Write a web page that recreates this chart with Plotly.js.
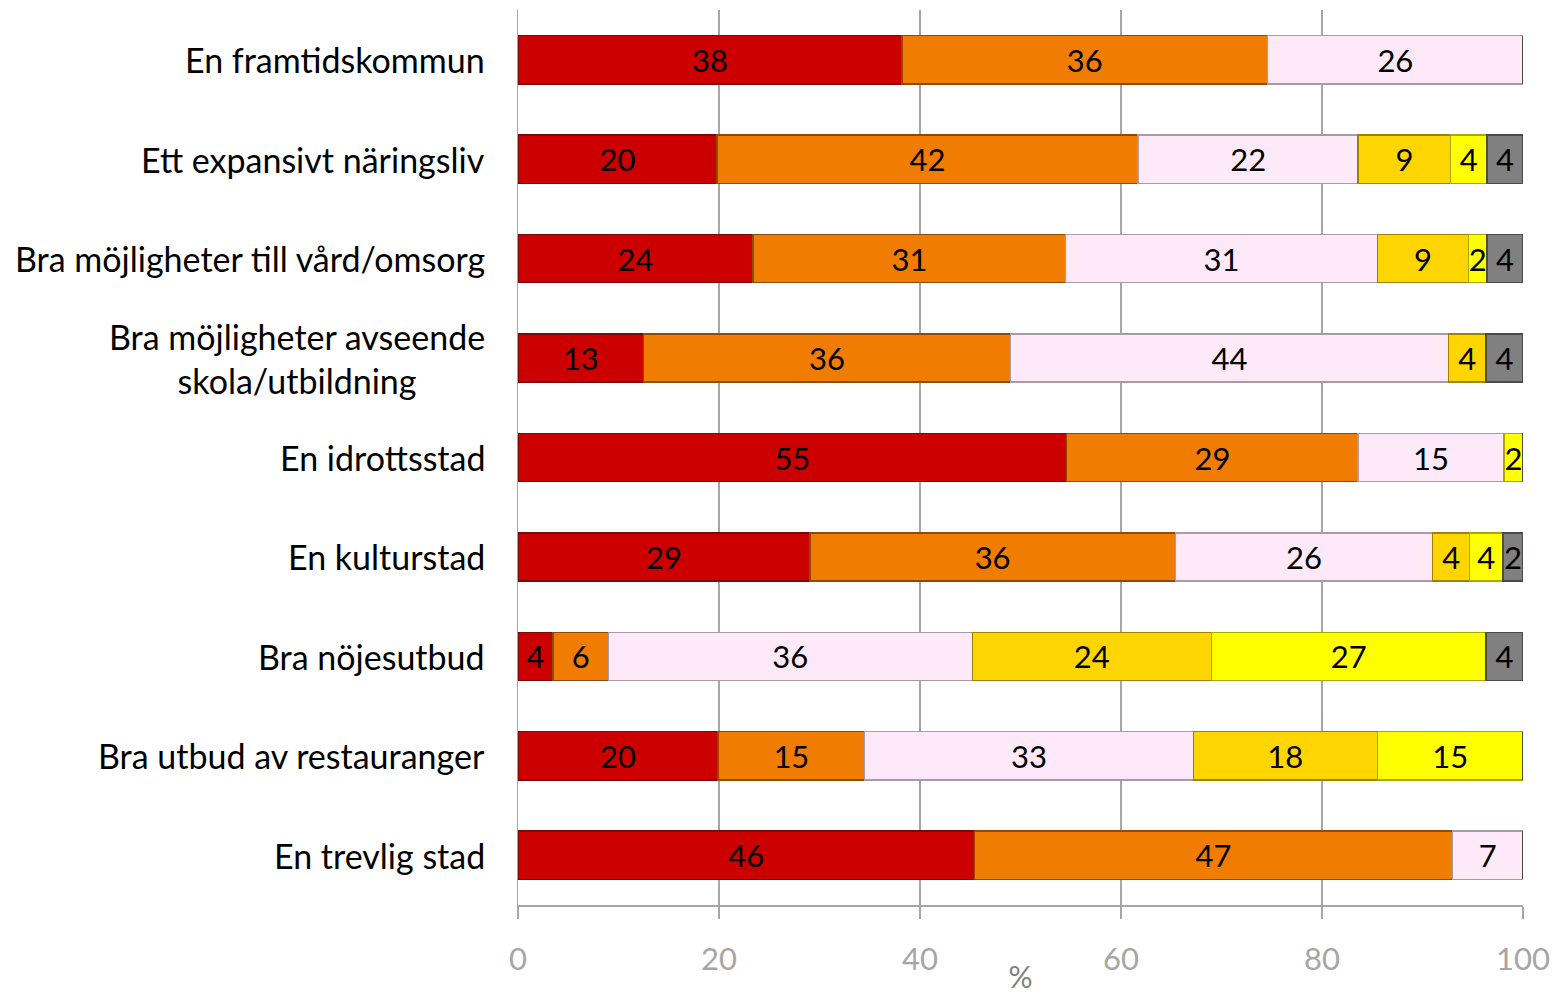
<!DOCTYPE html>
<html>
<head>
<meta charset="utf-8">
<script src="https://cdn.plot.ly/plotly-3.0.1.min.js"></script>
<style>
  html, body { margin: 0; padding: 0; background: #ffffff; }
  #chart { width: 1554px; height: 994px; }
</style>
</head>
<body>
<div id="chart"></div>
<script>
// Categories (top to bottom)
var categories = [
  "En framtidskommun",
  "Ett expansivt näringsliv",
  "Bra möjligheter till vård/omsorg",
  "Bra möjligheter avseende<br>skola/utbildning",
  "En idrottsstad",
  "En kulturstad",
  "Bra nöjesutbud",
  "Bra utbud av restauranger",
  "En trevlig stad"
];

// Segment widths (percent of row)
var series1 = [38.2, 19.8, 23.4, 12.5, 54.6, 29.05, 3.5, 19.9, 45.4];
var series2 = [36.4, 41.9, 31.1, 36.5, 29.0, 36.35, 5.5, 14.6, 47.6];
var series3 = [25.4, 21.9, 31.0, 43.6, 14.5, 25.6, 36.2, 32.7, 7.0];
var series4 = [0, 9.2, 9.1, 3.7, 0, 3.7, 23.8, 18.3, 0];
var series5 = [0, 3.6, 1.8, 0, 1.9, 3.3, 27.3, 14.5, 0];
var series6 = [0, 3.6, 3.6, 3.7, 0, 2.0, 3.7, 0, 0];

// Printed data labels
var labels1 = ["38", "20", "24", "13", "55", "29", "4", "20", "46"];
var labels2 = ["36", "42", "31", "36", "29", "36", "6", "15", "47"];
var labels3 = ["26", "22", "31", "44", "15", "26", "36", "33", "7"];
var labels4 = ["", "9", "9", "4", "", "4", "24", "18", ""];
var labels5 = ["", "4", "2", "", "2", "4", "27", "15", ""];
var labels6 = ["", "4", "4", "4", "", "2", "4", "", ""];

var xTicks = [0, 20, 40, 60, 80, 100];

var seriesList = [series1, series2, series3, series4, series5, series6];
var labelList = [labels1, labels2, labels3, labels4, labels5, labels6];
var fills = ["#CC0000", "#F07C02", "#FDE9F7", "#FFD500", "#FFFF00", "#808080"];
var edges = ["#7A0A0A", "#8F4A08", "#A89AA6", "#9C8200", "#A8A800", "#4A4A4A"];

var FONT = "Lato, 'Open Sans', 'DejaVu Sans', sans-serif";

var traces = seriesList.map(function (vals, i) {
  return {
    type: "bar",
    orientation: "h",
    y: categories,
    x: vals,
    text: labelList[i],
    texttemplate: "%{text}",
    textposition: "inside",
    insidetextanchor: "middle",
    textangle: 0,
    constraintext: "none",
    cliponaxis: false,
    insidetextfont: { family: FONT, size: 31, color: "#000000" },
    marker: { color: fills[i], line: { color: edges[i], width: 1.5 } },
    hoverinfo: "x+y",
    showlegend: false
  };
});

var annotations = categories.map(function (c) {
  return {
    x: 0, xref: "paper", xanchor: "right", xshift: -31,
    y: c, yref: "y", yanchor: "middle",
    text: c, align: "center", showarrow: false,
    font: { family: FONT, size: 34, color: "#000000" }
  };
});

var layout = {
  width: 1554,
  height: 994,
  margin: { l: 518, r: 31, t: 10, b: 89, pad: 0 },
  paper_bgcolor: "#ffffff",
  plot_bgcolor: "#ffffff",
  barmode: "stack",
  bargap: 0.515,
  font: { family: FONT, color: "#000000" },
  xaxis: {
    range: [0, 100],
    tickvals: xTicks,
    ticktext: xTicks.map(String),
    showgrid: true,
    gridcolor: "#A6A6A6",
    gridwidth: 1.5,
    zeroline: false,
    showline: true,
    linecolor: "#A6A6A6",
    linewidth: 2,
    ticks: "outside",
    ticklen: 12,
    tickwidth: 1.5,
    tickcolor: "#A6A6A6",
    ticklabelstandoff: 14,
    tickfont: { family: FONT, size: 31, color: "#A6A6A6" },
    title: { text: "%", standoff: 8, font: { family: FONT, size: 30, color: "#808080" } },
    fixedrange: true
  },
  yaxis: {
    type: "category",
    autorange: "reversed",
    showticklabels: false,
    showgrid: false,
    zeroline: false,
    showline: true,
    linecolor: "#A6A6A6",
    linewidth: 1.5,
    ticks: "",
    fixedrange: true
  },
  annotations: annotations
};

Plotly.newPlot("chart", traces, layout, { displayModeBar: false, staticPlot: true });
</script>
</body>
</html>
